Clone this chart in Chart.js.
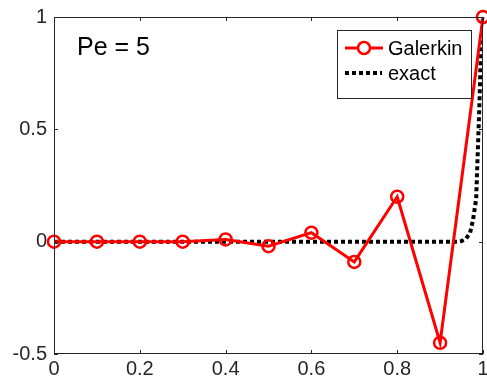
<!DOCTYPE html>
<html>
<head>
<meta charset="utf-8">
<script src="https://cdn.jsdelivr.net/npm/chart.js@4"></script>
<style>
  html, body { margin: 0; padding: 0; background: #fff; overflow: hidden; }
  #wrap { width: 487px; height: 385px; position: relative; }
</style>
</head>
<body>
<div id="wrap"><canvas id="myChart"></canvas></div>
<script>
// galerkin solution at the nodes
const nodesX = [0, 0.1, 0.2, 0.3, 0.4, 0.5, 0.6, 0.7, 0.8, 0.9, 1];
const galerkinY = [0, 0, 0, 0, 0.01, -0.02, 0.04, -0.09, 0.2, -0.45, 1];

// exact solution
const exactX = [0, 0.94, 0.95, 0.96, 0.97, 0.977, 0.984, 0.988, 0.992, 0.995, 1];
const exactY = [0, 0, 0.003, 0.012, 0.04, 0.1, 0.19, 0.41, 0.63, 0.85, 1];

const xTicks = [0, 0.2, 0.4, 0.6, 0.8, 1];
const yTicks = [-0.5, 0, 0.5, 1];

const seriesNames = ['Galerkin', 'exact'];
const annotation = 'Pe = 5';

const font = '"Liberation Sans", Arial, sans-serif';
const axisColor = '#262626';

const toPoints = (xs, ys) => xs.map((x, i) => ({ x: x, y: ys[i] }));

// box around axes, inward ticks, text and legend
const matlabBox = {
  id: 'matlabBox',
  afterDraw(chart) {
    const ctx = chart.ctx;
    const a = chart.chartArea;
    const xs = chart.scales.x, ys = chart.scales.y;
    ctx.save();
    ctx.strokeStyle = axisColor;
    ctx.lineWidth = 1;
    ctx.strokeRect(a.left + 0.5, a.top + 0.5, a.right - a.left - 1, a.bottom - a.top - 1);
    ctx.beginPath();
    xTicks.forEach(v => {
      const px = Math.round(xs.getPixelForValue(v)) + 0.5;
      ctx.moveTo(px, a.bottom); ctx.lineTo(px, a.bottom - 4);
      ctx.moveTo(px, a.top); ctx.lineTo(px, a.top + 4);
    });
    yTicks.forEach(v => {
      const py = Math.round(ys.getPixelForValue(v)) + 0.5;
      ctx.moveTo(a.left, py); ctx.lineTo(a.left + 4, py);
      ctx.moveTo(a.right, py); ctx.lineTo(a.right - 4, py);
    });
    ctx.stroke();

    // Pe text
    ctx.fillStyle = '#000';
    ctx.font = '25px ' + font;
    ctx.textBaseline = 'alphabetic';
    ctx.textAlign = 'left';
    ctx.fillText(annotation, 77, 55);

    // legend
    const bx = 337, by = 30, bw = 134, bh = 68;
    ctx.fillStyle = '#fff';
    ctx.fillRect(bx, by, bw, bh);
    ctx.strokeStyle = '#262626';
    ctx.lineWidth = 1;
    ctx.strokeRect(bx + 0.5, by + 0.5, bw, bh);

    const ds = chart.data.datasets;
    // Galerkin entry
    ctx.strokeStyle = ds[0].borderColor;
    ctx.lineWidth = ds[0].borderWidth;
    ctx.beginPath(); ctx.moveTo(345, 48); ctx.lineTo(383, 48); ctx.stroke();
    ctx.lineWidth = ds[0].pointBorderWidth;
    ctx.beginPath(); ctx.arc(364, 48, ds[0].pointRadius, 0, Math.PI * 2);
    ctx.fillStyle = '#fff'; ctx.fill(); ctx.stroke();
    // exact entry
    ctx.strokeStyle = ds[1].borderColor;
    ctx.lineWidth = ds[1].borderWidth;
    ctx.setLineDash(ds[1].borderDash);
    ctx.beginPath(); ctx.moveTo(345, 73); ctx.lineTo(382, 73); ctx.stroke();
    ctx.setLineDash([]);

    ctx.fillStyle = '#000';
    ctx.font = '20px ' + font;
    ctx.textBaseline = 'middle';
    ctx.fillText(seriesNames[0], 388, 49);
    ctx.fillText(seriesNames[1], 388, 74);
    ctx.restore();
  }
};

const ctx = document.getElementById('myChart');

new Chart(ctx, {
  type: 'line',
  data: {
    datasets: [{
      label: seriesNames[0],
      data: toPoints(nodesX, galerkinY),
      borderColor: '#ff0000',
      borderWidth: 3,
      pointRadius: 6,
      pointBorderWidth: 2.5,
      pointBorderColor: '#ff0000',
      pointBackgroundColor: 'rgba(0,0,0,0)',
      tension: 0,
      clip: false,
      order: 0
    }, {
      label: seriesNames[1],
      data: toPoints(exactX, exactY),
      borderColor: '#000000',
      borderWidth: 4,
      borderDash: [4, 3],
      pointRadius: 0,
      tension: 0,
      order: 1
    }]
  },
  options: {
    responsive: true,
    maintainAspectRatio: false,
    animation: false,
    layout: { autoPadding: false, padding: { top: 17, right: 4, left: 0, bottom: 0 } },
    plugins: {
      legend: { display: false },
      tooltip: { enabled: false }
    },
    scales: {
      x: {
        type: 'linear',
        min: 0, max: 1,
        afterBuildTicks: s => { s.ticks = xTicks.map(v => ({ value: v })); },
        afterFit: s => { s.height = 31; s.paddingLeft = 0; s.paddingRight = 0; },
        grid: { display: false, drawTicks: false },
        border: { display: false },
        ticks: {
          color: axisColor,
          padding: 3,
          maxRotation: 0,
          autoSkip: false,
          font: { family: font, size: 20 },
          callback: v => String(v)
        }
      },
      y: {
        type: 'linear',
        min: -0.5, max: 1,
        afterBuildTicks: s => { s.ticks = yTicks.map(v => ({ value: v })); },
        afterFit: s => { s.width = 54; s.paddingTop = 0; s.paddingBottom = 0; },
        grid: { display: false, drawTicks: false },
        border: { display: false },
        ticks: {
          color: axisColor,
          padding: 7,
          autoSkip: false,
          font: { family: font, size: 20 },
          callback: v => String(v)
        }
      }
    }
  },
  plugins: [matlabBox]
});
</script>
</body>
</html>
